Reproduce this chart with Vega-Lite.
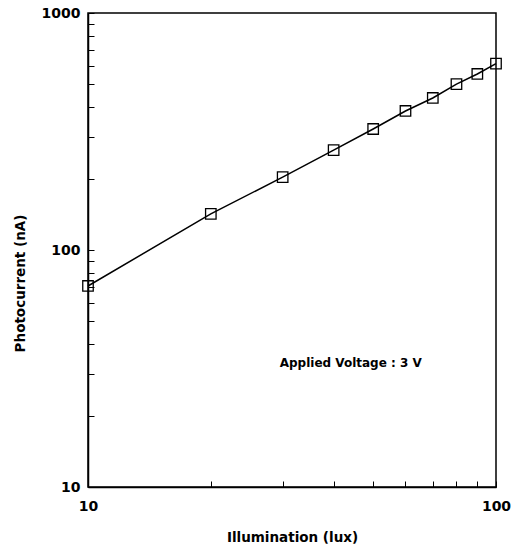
{
  "$schema": "https://vega.github.io/schema/vega-lite/v6.json",
  "width": 408,
  "height": 474,
  "autosize": {"type": "none"},
  "padding": {"left": 88, "top": 13, "right": 22, "bottom": 58},
  "background": "white",
  "config": {
    "view": {"stroke": "black", "strokeWidth": 1.5},
    "font": "DejaVu Sans",
    "axis": {
      "domainColor": "black",
      "domainWidth": 1.5,
      "tickColor": "black",
      "grid": false,
      "labelFont": "DejaVu Sans",
      "labelFontWeight": "bold",
      "labelFontSize": 14,
      "labelColor": "black",
      "labelFlush": false,
      "titleFont": "DejaVu Sans",
      "titleFontWeight": "bold",
      "titleFontSize": 13.5,
      "titleColor": "black"
    }
  },
  "data": {
    "values": [
      {"lux": 10, "nA": 70.5},
      {"lux": 20, "nA": 142},
      {"lux": 30, "nA": 203},
      {"lux": 40, "nA": 264},
      {"lux": 50, "nA": 324},
      {"lux": 60, "nA": 386},
      {"lux": 70, "nA": 438},
      {"lux": 80, "nA": 501},
      {"lux": 90, "nA": 553},
      {"lux": 100, "nA": 612}
    ]
  },
  "encoding": {
    "x": {
      "field": "lux", "type": "quantitative",
      "scale": {"type": "log", "domain": [10, 100], "nice": false},
      "axis": {
        "title": "Illumination (lux)",
        "values": [10, 20, 30, 40, 50, 60, 70, 80, 90, 100],
        "labelExpr": "datum.value == 10 || datum.value == 100 ? format(datum.value, 'd') : ''",
        "tickSize": -6,
        "labelPadding": 18,
        "titlePadding": 17
      }
    },
    "y": {
      "field": "nA", "type": "quantitative",
      "scale": {"type": "log", "domain": [10, 1000], "nice": false},
      "axis": {
        "title": "Photocurrent (nA)",
        "values": [10, 20, 30, 40, 50, 60, 70, 80, 90, 100, 200, 300, 400, 500, 600, 700, 800, 900, 1000],
        "labelExpr": "datum.value == 10 || datum.value == 100 || datum.value == 1000 ? format(datum.value, 'd') : ''",
        "tickSize": -6,
        "labelPadding": 14,
        "titlePadding": 14,
        "titleY": 270
      }
    }
  },
  "layer": [
    {"mark": {"type": "line", "color": "black", "strokeWidth": 1.5}},
    {"mark": {"type": "point", "shape": "square", "filled": false, "color": "black", "strokeWidth": 1.3, "size": 110, "opacity": 1}},
    {
      "data": {"values": [{"lux": 29.5, "nA": 33.5, "t": "Applied Voltage : 3 V"}]},
      "mark": {"type": "text", "align": "left", "baseline": "middle", "font": "DejaVu Sans", "fontWeight": "bold", "fontSize": 12, "color": "black"},
      "encoding": {"text": {"field": "t"}}
    }
  ]
}
